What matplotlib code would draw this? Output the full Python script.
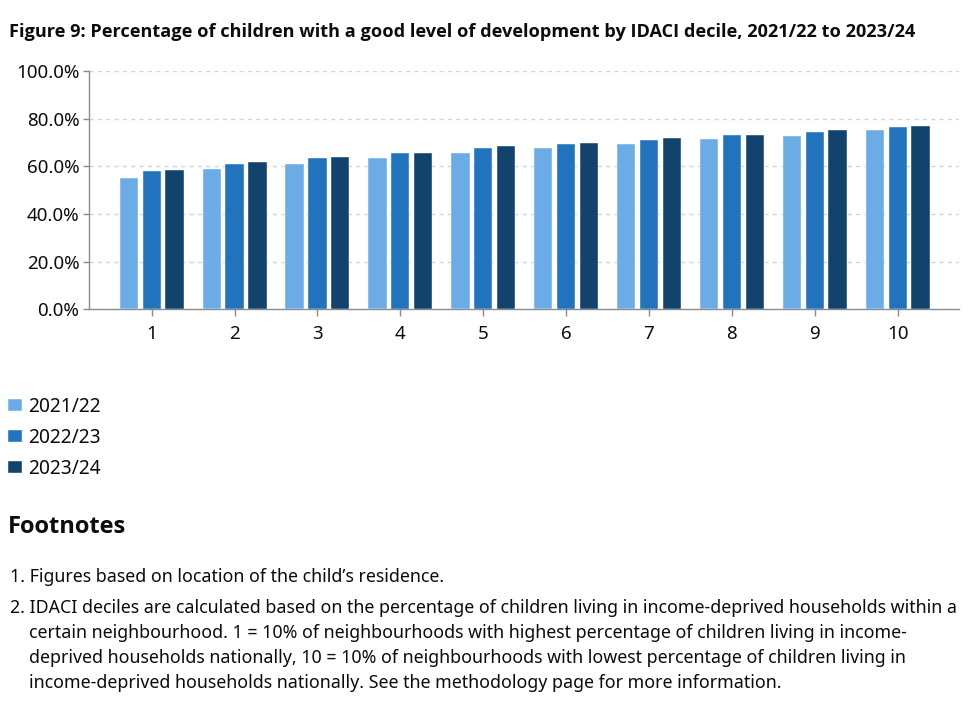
import matplotlib
matplotlib.use("Agg")
import matplotlib.pyplot as plt
from matplotlib.ticker import FuncFormatter
import numpy as np

plt.rcParams['font.family'] = ['Noto Sans', 'DejaVu Sans']
BOLD = ['Open Sans', 'DejaVu Sans']

deciles = ["1", "2", "3", "4", "5", "6", "7", "8", "9", "10"]
years = ["2021/22", "2022/23", "2023/24"]
v2122 = [55.2, 58.7, 61.1, 63.5, 65.5, 67.7, 69.2, 71.3, 72.6, 75.2]
v2223 = [57.9, 61.0, 63.5, 65.5, 67.8, 69.2, 71.0, 73.0, 74.3, 76.5]
v2324 = [58.3, 61.7, 63.8, 65.7, 68.4, 69.8, 71.7, 73.0, 75.1, 76.9]
series = [v2122, v2223, v2324]
colors = ["#6BACE6", "#2073BC", "#12436D"]
yticks = [0, 20, 40, 60, 80, 100]

title = "Figure 9: Percentage of children with a good level of development by IDACI decile, 2021/22 to 2023/24"
footnotes_heading = "Footnotes"
footnote1 = "1. Figures based on location of the child\u2019s residence."
footnote2_lines = [
    "2. IDACI deciles are calculated based on the percentage of children living in income-deprived households within a",
    "certain neighbourhood. 1 = 10% of neighbourhoods with highest percentage of children living in income-",
    "deprived households nationally, 10 = 10% of neighbourhoods with lowest percentage of children living in",
    "income-deprived households nationally. See the methodology page for more information.",
]

TXT = "#0B0C0C"
W, H = 970, 705
fig = plt.figure(figsize=(W / 100, H / 100), dpi=100)

def fx(px):
    return px / W

def fy(py):
    return 1 - py / H

ax = fig.add_axes([fx(89), fy(309.3), fx(959 - 89), (309.3 - 71) / H])

x = np.arange(1, len(deciles) + 1)
width = 0.221
step = 0.276
handles = []
for i, (vals, c, lab) in enumerate(zip(series, colors, years)):
    b = ax.bar(x + (i - 1) * step, vals, width=width, color=c, label=lab,
               edgecolor="white", linewidth=0.3, zorder=3)
    handles.append(b)

ax.set_xlim(0.244, 10.74)
ax.set_ylim(0, 100)
ax.set_xticks(x)
ax.set_xticklabels(deciles)
ax.set_yticks(yticks)
ax.yaxis.set_major_formatter(FuncFormatter(lambda v, p: f"{v:.1f}%"))

for s in ["top", "right"]:
    ax.spines[s].set_visible(False)
for s in ["left", "bottom"]:
    ax.spines[s].set_color("#8c8c8c")
    ax.spines[s].set_linewidth(1.0)

ax.tick_params(axis="y", length=4, width=1, color="#8c8c8c", pad=3,
               labelsize=13.5, labelcolor=TXT)
ax.tick_params(axis="x", length=5, width=1, color="#8c8c8c", pad=6,
               labelsize=13.5, labelcolor=TXT)
ax.yaxis.grid(True, color="#d4d4d4", linestyle=(0, (3, 3)), linewidth=1.0, zorder=0)
ax.set_axisbelow(True)

fig.text(fx(9), fy(32), title, fontsize=13.07, fontweight="bold", family=BOLD,
         color=TXT, ha="left", va="center")

leg = fig.legend(handles=handles, labels=years, loc="upper left",
                 bbox_to_anchor=(fx(2), fy(391)), frameon=False,
                 fontsize=13.8, handlelength=0.76, handleheight=0.64,
                 handletextpad=0.3, labelspacing=0.57, borderaxespad=0,
                 borderpad=0.3)
for t in leg.get_texts():
    t.set_color(TXT)

fig.text(fx(8), fy(527), footnotes_heading, fontsize=17, fontweight="bold",
         family=BOLD, color=TXT, ha="left", va="center")

fig.text(fx(10), fy(577), footnote1, fontsize=12.8, color=TXT, ha="left", va="center")
ys2 = [608, 633, 658, 683]
for j, (line, yy) in enumerate(zip(footnote2_lines, ys2)):
    fig.text(fx(10 if j == 0 else 29), fy(yy), line, fontsize=12.8, color=TXT,
             ha="left", va="center")

fig.savefig("out.png", dpi=100, facecolor="white")
